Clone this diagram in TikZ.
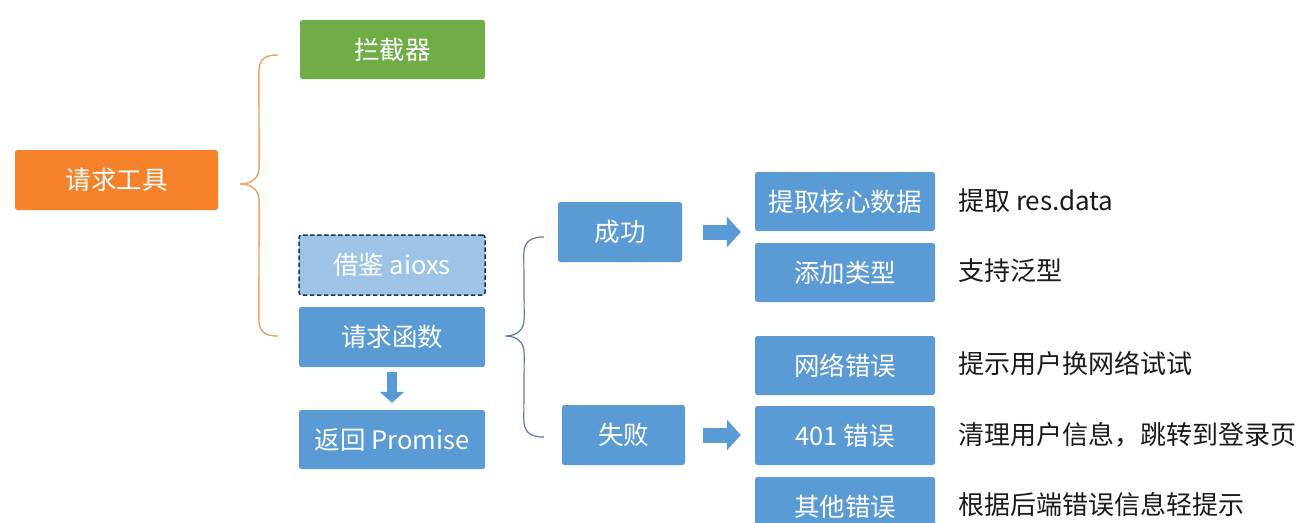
\documentclass[tikz,border=0pt]{standalone}
\usepackage{fontspec}
\setmainfont{Noto Sans CJK SC}
\usetikzlibrary{calc,arrows.meta}
\definecolor{cOrange}{HTML}{F5822B}
\definecolor{cGreen}{HTML}{70AD47}
\definecolor{cBlue}{HTML}{5B9BD5}
\definecolor{cLight}{HTML}{9DC3E6}
\definecolor{cNavy}{HTML}{1F3050}
\definecolor{cBraceO}{HTML}{E9A26A}
\definecolor{cBraceB}{HTML}{5A7BB5}
\definecolor{cText}{HTML}{1A1A1A}
\tikzset{
  box/.style={rectangle, rounded corners=2.5pt, inner sep=0pt, text=white,
    font=\fontsize{25.5}{30}\selectfont},
  bluebox/.style={box, fill=cBlue},
  note/.style={anchor=west, inner sep=0pt, text=cText, font=\fontsize{26}{30}\selectfont},
  braceO/.style={draw=cBraceO, line width=1.4pt},
  braceB/.style={draw=cBraceB, line width=1.2pt},
  blockarrow/.style={draw=cBlue, line width=15pt, -{Triangle[width=30pt,length=14pt]}},
  blockdown/.style={draw=cBlue, line width=10pt, -{Triangle[width=24pt,length=11pt]}}
}
\begin{document}
\begin{tikzpicture}[x=1pt,y=-1pt]
\useasboundingbox (0,0) rectangle (1309,522);
\begin{scope}
\clip (0,0) rectangle (1309,522);
% left column
\node[box, fill=cOrange, minimum width=203pt, minimum height=60pt] (tool) at (116.5,180) {请求工具};
\node[box, fill=cGreen, minimum width=185pt, minimum height=59pt] (lan) at (392.5,49.5) {拦截器};
\node[box, fill=cLight, draw=cNavy, dash pattern=on 4.5pt off 2.5pt, line width=1.5pt, minimum width=186pt, minimum height=60pt] (jj) at (392,265) {借鉴 aioxs};
\node[bluebox, minimum width=186pt, minimum height=60pt] (fn) at (392,337) {请求函数};
\node[bluebox, minimum width=186pt, minimum height=59pt] (ret) at (392,439.5) {返回 Promise};
% middle
\node[bluebox, minimum width=124pt, minimum height=60pt] (ok) at (620,232) {成功};
\node[bluebox, minimum width=123pt, minimum height=60pt] (fail) at (623.5,435) {失败};
% right boxes
\node[bluebox, minimum width=180pt, minimum height=59pt] (d1) at (845,201.5) {提取核心数据};
\node[bluebox, minimum width=180pt, minimum height=59pt] (d2) at (845,272.5) {添加类型};
\node[bluebox, minimum width=180pt, minimum height=59pt] (e1) at (845,365.5) {网络错误};
\node[bluebox, minimum width=180pt, minimum height=59pt] (e2) at (845,435.5) {401 错误};
\node[bluebox, minimum width=180pt, minimum height=59pt] (e3) at (845,506.5) {其他错误};
% notes
\node[note] (n1) at (958,201) {提取 res.data};
\node[note] (n2) at (958,271) {支持泛型};
\node[note] (n3) at (958,364) {提示用户换网络试试};
\node[note] (n4) at (958,435) {清理用户信息，跳转到登录页};
\node[note] (n5) at (958,505) {根据后端错误信息轻提示};
% orange brace
\coordinate (oT) at ($(lan.west)+(-22,5.5)$);
\coordinate (oM) at ($(tool.east)+(22,4)$);
\coordinate (oB) at ($(fn.west)+(-21,-1)$);
\draw[braceO] (oT) .. controls ($(oT)+(-15,0)$) and ($(oT)+(-19,6)$) .. ($(oT)+(-19,18)$)
  -- ($(oM)+(19,-18)$) .. controls ($(oM)+(19,-6)$) and ($(oM)+(12,0)$) .. (oM)
  .. controls ($(oM)+(12,0)$) and ($(oM)+(19,6)$) .. ($(oM)+(19,18)$)
  -- ($(oB)+(-19,-18)$) .. controls ($(oB)+(-19,-6)$) and ($(oB)+(-15,0)$) .. (oB);
% blue brace
\coordinate (bT) at ($(ok.west)+(-14,5)$);
\coordinate (bM) at ($(fn.east)+(20,-1)$);
\coordinate (bB) at ($(fail.west)+(-18,2)$);
\draw[braceB] (bT) .. controls ($(bT)+(-15,0)$) and ($(bT)+(-20,6)$) .. ($(bT)+(-20,18)$)
  -- ($(bM)+(19,-18)$) .. controls ($(bM)+(19,-6)$) and ($(bM)+(12,0)$) .. (bM)
  .. controls ($(bM)+(12,0)$) and ($(bM)+(19,6)$) .. ($(bM)+(19,18)$)
  -- ($(bB)+(-20,-18)$) .. controls ($(bB)+(-20,-6)$) and ($(bB)+(-15,0)$) .. (bB);
% block arrows
\draw[blockdown, shorten <=5pt, shorten >=7pt] (fn.south) -- (ret.north);
\draw[blockarrow, shorten <=21pt, shorten >=14pt] (ok.east) -- (ok.east -| d1.west);
\draw[blockarrow, shorten <=18pt, shorten >=14pt] (fail.east) -- (fail.east -| e2.west);
\end{scope}
\end{tikzpicture}
\end{document}
